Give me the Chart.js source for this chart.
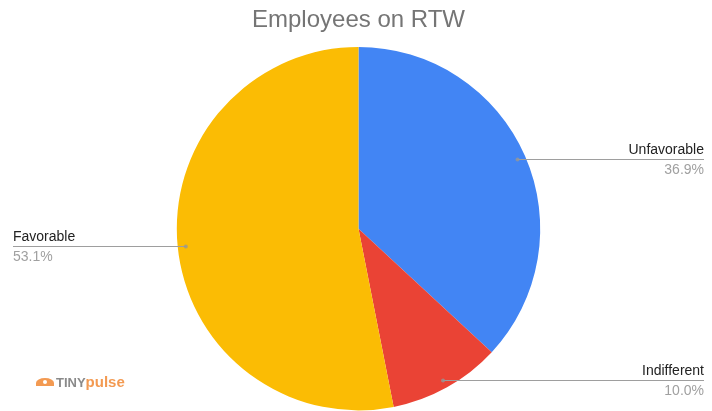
<!DOCTYPE html>
<html>
<head>
<meta charset="utf-8">
<script src="https://cdn.jsdelivr.net/npm/chart.js@4/dist/chart.umd.min.js"></script>
<style>
  html, body { margin: 0; padding: 0; background: #fff; overflow: hidden; }
  #wrap { position: relative; width: 712px; height: 411px; }
</style>
</head>
<body>
<div id="wrap"><canvas id="rtwChart"></canvas></div>
<script>
const categories = ['Unfavorable', 'Indifferent', 'Favorable'];
const shares = [36.9, 10.0, 53.1];
const sliceColors = ['#4285F4', '#EA4335', '#FBBC04'];
const chartTitle = 'Employees on RTW';

// leader lines + labels, google-sheets style
const calloutPlugin = {
    id: 'callouts',
    afterDraw(chart) {
        const ctx = chart.ctx;
        const meta = chart.getDatasetMeta(0);
        ctx.save();

        // title
        ctx.font = '24px "Liberation Sans", Arial, sans-serif';
        ctx.fillStyle = '#757575';
        ctx.textAlign = 'center';
        ctx.textBaseline = 'alphabetic';
        ctx.fillText(chartTitle, 358.5, 27);

        meta.data.forEach((arc, i) => {
            const mid = (arc.startAngle + arc.endAngle) / 2;
            const r = arc.outerRadius * 0.955;
            const px = arc.x + Math.cos(mid) * r;
            const py = arc.y + Math.sin(mid) * r;
            const right = Math.cos(mid) >= 0;
            const endX = right ? 704 : 13;

            ctx.strokeStyle = '#9e9e9e';
            ctx.lineWidth = 1;
            ctx.beginPath();
            ctx.moveTo(px, Math.round(py) + 0.5);
            ctx.lineTo(endX, Math.round(py) + 0.5);
            ctx.stroke();

            ctx.fillStyle = 'rgba(150,150,150,0.8)';
            ctx.beginPath();
            ctx.arc(px, Math.round(py) + 0.5, 2, 0, Math.PI * 2);
            ctx.fill();

            ctx.textAlign = right ? 'right' : 'left';
            ctx.font = '14px "Liberation Sans", Arial, sans-serif';
            ctx.fillStyle = '#222222';
            ctx.fillText(categories[i], endX, Math.round(py) - 5);
            ctx.fillStyle = '#a0a0a0';
            ctx.fillText(shares[i].toFixed(1) + '%', endX, Math.round(py) + 15);
        });

        // TINYpulse mark
        ctx.fillStyle = '#f39a52';
        ctx.beginPath();
        ctx.ellipse(45, 383, 9, 5, 0, Math.PI, 0);
        ctx.lineTo(54, 386);
        ctx.lineTo(36, 386);
        ctx.closePath();
        ctx.fill();
        ctx.fillStyle = '#ffffff';
        ctx.beginPath();
        ctx.arc(45, 382, 2, 0, Math.PI * 2);
        ctx.fill();
        ctx.textAlign = 'left';
        ctx.font = 'bold 13px "Liberation Sans", Arial, sans-serif';
        ctx.fillStyle = '#8a8a8a';
        ctx.fillText('TINY', 56, 387);
        const w = ctx.measureText('TINY').width;
        ctx.font = 'bold 15px "Liberation Sans", Arial, sans-serif';
        ctx.fillStyle = '#f39a52';
        ctx.fillText('pulse', 56 + w, 387);

        ctx.restore();
    }
};

const ctx = document.getElementById('rtwChart').getContext('2d');
new Chart(ctx, {
    type: 'pie',
    data: {
        labels: categories,
        datasets: [{
            data: shares,
            backgroundColor: sliceColors,
            borderWidth: 0
        }]
    },
    options: {
        responsive: true,
        maintainAspectRatio: false,
        animation: false,
        layout: {
            padding: { top: 47, bottom: 0.6, left: 5, right: 0 }
        },
        plugins: {
            legend: { display: false },
            title: { display: false },
            tooltip: { enabled: false }
        }
    },
    plugins: [calloutPlugin]
});
</script>
</body>
</html>
